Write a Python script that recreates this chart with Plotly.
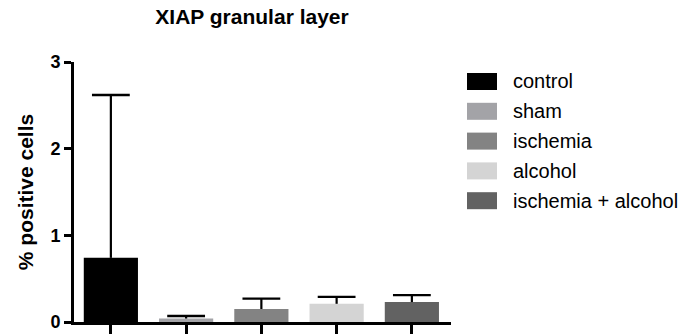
import plotly.graph_objects as go

categories = ["control", "sham", "ischemia", "alcohol", "ischemia + alcohol"]
means = [0.74, 0.04, 0.15, 0.21, 0.23]
errors_up = [1.88, 0.03, 0.12, 0.08, 0.08]
colors = ["#000000", "#A3A3A7", "#838383", "#D4D4D4", "#626262"]
y_ticks = [0, 1, 2, 3]

FONT = "Liberation Sans, Arial, sans-serif"

fig = go.Figure()
fig.add_trace(go.Bar(
    x=categories, y=means,
    marker=dict(color=colors, line=dict(width=0)),
    width=0.72,
    showlegend=False, hoverinfo="skip",
))

# upper-only error bars: stem from bar top to mean+SD, cap at the top
tops = [m + e for m, e in zip(means, errors_up)]
stem_x, stem_y = [], []
for c, m, t in zip(categories, means, tops):
    stem_x += [c, c, None]
    stem_y += [m, t, None]
fig.add_trace(go.Scatter(
    x=stem_x, y=stem_y, mode="lines",
    line=dict(color="#000000", width=2.2),
    showlegend=False, hoverinfo="skip",
))
fig.add_trace(go.Scatter(
    x=categories, y=tops, mode="markers",
    marker=dict(symbol="line-ew", size=27,
                line=dict(color="#000000", width=2.4)),
    showlegend=False, hoverinfo="skip",
))

# legend drawn as shapes + text (large swatches like the original)
x0, x1 = 467, 497
text_x = 511
row0 = 81.5
step = 29.8
W, H = 697, 334
for i, (name, col) in enumerate(zip(categories, colors)):
    yc = row0 + i * step
    fig.add_shape(type="rect", xref="paper", yref="paper",
                  x0=(x0 - 74) / (451 - 74), x1=(x1 - 74) / (451 - 74),
                  y0=(322 - (yc - 8.5)) / 260, y1=(322 - (yc + 8.5)) / 260,
                  fillcolor=col, line=dict(width=0))
    fig.add_annotation(xref="paper", yref="paper",
                       x=(text_x - 74) / (451 - 74), y=(322 - yc) / 260,
                       text=name, showarrow=False, xanchor="left", yanchor="middle",
                       font=dict(family=FONT, size=20, color="#000000"))

fig.update_layout(
    width=W, height=H,
    margin=dict(l=74, r=W - 451, t=62, b=12),
    plot_bgcolor="white", paper_bgcolor="white",
    title=dict(text="<b>XIAP granular layer</b>", x=252 / W, xanchor="center",
               y=1 - 17 / H, yanchor="middle",
               font=dict(family=FONT, size=21, color="#000000")),
    bargap=0.28,
)
fig.update_xaxes(
    range=[-0.49, 4.52], showticklabels=False, automargin=False,
    showline=True, linecolor="#000000", linewidth=3,
    ticks="outside", ticklen=10, tickwidth=2.5, tickcolor="#000000",
    showgrid=False, zeroline=False,
)
fig.update_yaxes(
    range=[0, 3], tickvals=y_ticks, ticktext=[str(v) for v in y_ticks],
    automargin=False,
    showline=True, linecolor="#000000", linewidth=3,
    ticks="outside", ticklen=7, tickwidth=2.5, tickcolor="#000000",
    tickfont=dict(family=FONT, size=18, color="#000000", weight="bold"),
    showgrid=False, zeroline=False,
    title=dict(text="<b>% positive cells</b>", standoff=12,
               font=dict(family=FONT, size=21, color="#000000")),
)

fig.write_html("out.html", config={"displayModeBar": False},
               post_script="document.body.style.margin='0';document.body.style.overflow='hidden';")
